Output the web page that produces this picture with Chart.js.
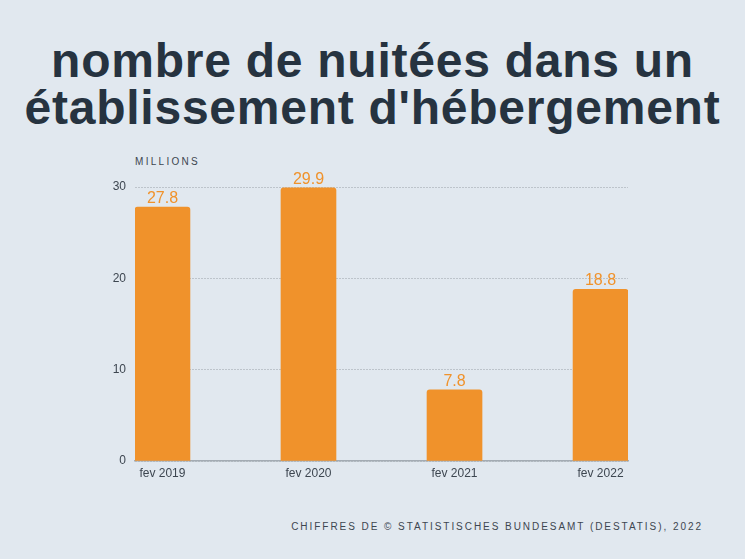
<!DOCTYPE html>
<html>
<head>
<meta charset="utf-8">
<script src="https://cdn.jsdelivr.net/npm/chart.js@4/dist/chart.umd.min.js"></script>
<style>
  html, body { margin: 0; padding: 0; background: #e1e8ef; }
  #wrap { position: relative; width: 745px; height: 559px; overflow: hidden; }
  #title {
    position: absolute; left: 0; top: 37px; width: 745px;
    text-align: center; font-family: "Liberation Sans", Arial, sans-serif;
    font-weight: bold; font-size: 48px; line-height: 47px; letter-spacing: 0.75px;
    color: #263340;
  }
  #unit {
    position: absolute; left: 135px; top: 156px;
    font-family: "Liberation Sans", Arial, sans-serif; font-size: 10px;
    letter-spacing: 2.3px; color: #3d4650;
  }
  #source {
    position: absolute; right: 42px; top: 521px;
    font-family: "Liberation Sans", Arial, sans-serif; font-size: 10px;
    letter-spacing: 1.95px; color: #3d4650;
  }
  canvas { position: absolute; left: 0; top: 0; }
</style>
</head>
<body>
<div id="wrap">
  <div id="title">nombre de nuitées dans un<br>établissement d'hébergement</div>
  <div id="unit">MILLIONS</div>
  <div id="source">CHIFFRES DE © STATISTISCHES BUNDESAMT (DESTATIS), 2022</div>
  <canvas id="nights-chart" width="745" height="559"></canvas>
</div>
<script>
const months = ['fev 2019', 'fev 2020', 'fev 2021', 'fev 2022'];
const nights = [27.8, 29.9, 7.8, 18.8];
const yTicks = [0, 10, 20, 30];

const edge = 0.188;

const valueLabels = {
    id: 'valueLabels',
    afterDatasetsDraw(chart) {
        const ctx = chart.ctx;
        const meta = chart.getDatasetMeta(0);
        ctx.save();
        ctx.font = '16px "Liberation Sans", Arial, sans-serif';
        ctx.fillStyle = '#f0922b';
        ctx.textAlign = 'center';
        ctx.textBaseline = 'alphabetic';
        meta.data.forEach((bar, i) => {
            ctx.fillText(nights[i].toFixed(1), bar.x, bar.y - 4);
        });
        ctx.restore();
    }
};

new Chart(document.getElementById('nights-chart'), {
    type: 'bar',
    data: {
        datasets: [{
            data: nights.map((v, i) => ({ x: i, y: v })),
            backgroundColor: '#f0922b',
            borderRadius: 3,
            borderSkipped: 'bottom',
            barThickness: 55
        }]
    },
    options: {
        responsive: false,
        animation: false,
        layout: { padding: { left: 105, right: 117, top: 187, bottom: 58 } },
        plugins: {
            legend: { display: false },
            tooltip: { enabled: false }
        },
        scales: {
            x: {
                type: 'linear',
                offset: false,
                min: -edge,
                max: months.length - 1 + edge,
                afterBuildTicks: scale => {
                    scale.ticks = months.map((m, i) => ({ value: i }));
                },
                afterFit: scale => { scale.height = 40; },
                grid: { display: false, drawTicks: false },
                border: { display: true, color: '#a3abb3', width: 1.5 },
                ticks: {
                    padding: 5,
                    color: '#3d4650',
                    font: { family: '"Liberation Sans", Arial, sans-serif', size: 12 },
                    callback: v => months[v]
                }
            },
            y: {
                min: 0,
                max: 30,
                afterBuildTicks: scale => {
                    scale.ticks = yTicks.map(v => ({ value: v }));
                },
                afterFit: scale => { scale.width = 30; },
                grid: { color: '#bdc4cb', drawTicks: false, lineWidth: 1 },
                border: { display: false, dash: [2, 1] },
                ticks: {
                    padding: 9,
                    color: '#3d4650',
                    font: { family: '"Liberation Sans", Arial, sans-serif', size: 12 }
                }
            }
        }
    },
    plugins: [valueLabels]
});
</script>
</body>
</html>
